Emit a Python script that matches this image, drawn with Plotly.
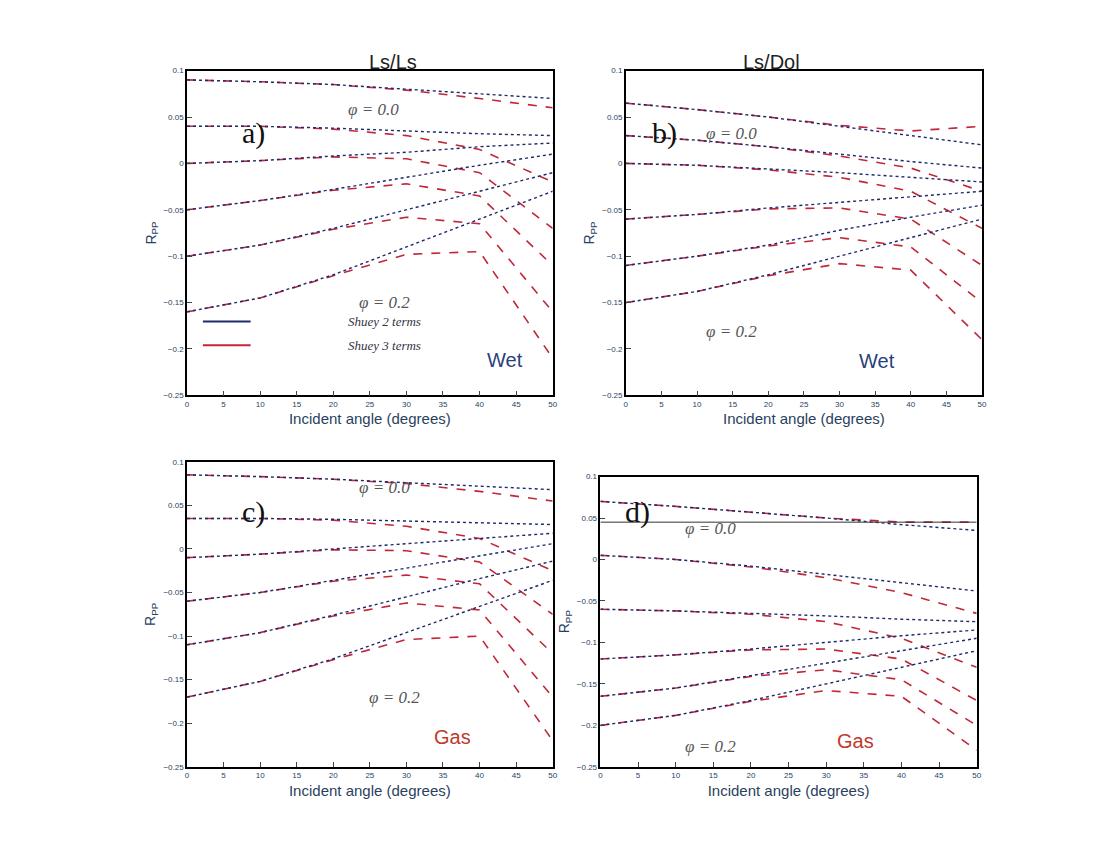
import plotly.graph_objects as go

angles = [0, 10, 20, 30, 40, 50]
phi_labels = ["0.00", "0.04", "0.08", "0.12", "0.16", "0.20"]

# Panel a: Ls/Ls wet
a_two = [
    [0.090, 0.088, 0.085, 0.080, 0.075, 0.070],
    [0.040, 0.040, 0.038, 0.035, 0.032, 0.030],
    [0.000, 0.003, 0.008, 0.012, 0.018, 0.022],
    [-0.050, -0.040, -0.028, -0.015, -0.002, 0.010],
    [-0.100, -0.088, -0.070, -0.050, -0.030, -0.010],
    [-0.160, -0.145, -0.120, -0.090, -0.060, -0.030],
]
a_three = [
    [0.090, 0.088, 0.085, 0.079, 0.070, 0.060],
    [0.040, 0.040, 0.037, 0.030, 0.015, -0.020],
    [0.000, 0.003, 0.007, 0.005, -0.010, -0.070],
    [-0.050, -0.040, -0.029, -0.022, -0.035, -0.110],
    [-0.100, -0.088, -0.071, -0.058, -0.065, -0.160],
    [-0.160, -0.145, -0.121, -0.098, -0.095, -0.210],
]
# Panel b: Ls/Dol wet
b_two = [
    [0.065, 0.058, 0.050, 0.040, 0.030, 0.020],
    [0.030, 0.025, 0.018, 0.010, 0.002, -0.005],
    [0.000, -0.002, -0.006, -0.010, -0.015, -0.020],
    [-0.060, -0.055, -0.048, -0.042, -0.036, -0.030],
    [-0.110, -0.100, -0.088, -0.072, -0.058, -0.045],
    [-0.150, -0.138, -0.120, -0.100, -0.080, -0.060],
]
b_three = [
    [0.065, 0.058, 0.050, 0.041, 0.035, 0.040],
    [0.030, 0.025, 0.018, 0.008, -0.005, -0.030],
    [0.000, -0.002, -0.007, -0.015, -0.030, -0.070],
    [-0.060, -0.055, -0.049, -0.048, -0.060, -0.110],
    [-0.110, -0.100, -0.089, -0.080, -0.090, -0.150],
    [-0.150, -0.138, -0.121, -0.108, -0.115, -0.190],
]
# Panel c: Ls/Ls gas
c_two = [
    [0.085, 0.083, 0.080, 0.076, 0.072, 0.068],
    [0.035, 0.035, 0.034, 0.032, 0.030, 0.028],
    [-0.010, -0.006, 0.000, 0.006, 0.012, 0.018],
    [-0.060, -0.050, -0.036, -0.022, -0.008, 0.006],
    [-0.110, -0.096, -0.076, -0.055, -0.034, -0.014],
    [-0.170, -0.152, -0.126, -0.096, -0.066, -0.036],
]
c_three = [
    [0.085, 0.083, 0.080, 0.075, 0.066, 0.055],
    [0.035, 0.035, 0.033, 0.026, 0.012, -0.025],
    [-0.010, -0.006, -0.001, -0.002, -0.015, -0.075],
    [-0.060, -0.050, -0.037, -0.030, -0.040, -0.120],
    [-0.110, -0.096, -0.077, -0.062, -0.070, -0.170],
    [-0.170, -0.152, -0.127, -0.104, -0.100, -0.220],
]
# Panel d: Ls/Dol gas
d_two = [
    [0.070, 0.064, 0.057, 0.050, 0.042, 0.035],
    [0.005, 0.000, -0.008, -0.018, -0.028, -0.038],
    [-0.060, -0.062, -0.065, -0.068, -0.072, -0.075],
    [-0.120, -0.115, -0.108, -0.100, -0.092, -0.085],
    [-0.165, -0.155, -0.140, -0.125, -0.110, -0.095],
    [-0.200, -0.188, -0.170, -0.150, -0.130, -0.110],
]
d_three = [
    [0.070, 0.064, 0.057, 0.050, 0.045, 0.045],
    [0.005, 0.000, -0.009, -0.022, -0.040, -0.065],
    [-0.060, -0.062, -0.066, -0.075, -0.095, -0.130],
    [-0.120, -0.115, -0.109, -0.108, -0.120, -0.170],
    [-0.165, -0.155, -0.141, -0.133, -0.145, -0.200],
    [-0.200, -0.188, -0.171, -0.158, -0.165, -0.230],
]

panels = [
    ("", a_two, a_three, [0.15, 0.495], [0.552, 0.948]),
    ("2", b_two, b_three, [0.564, 0.9], [0.552, 0.948]),
    ("3", c_two, c_three, [0.15, 0.495], [0.099, 0.471]),
    ("4", d_two, d_three, [0.54, 0.895], [0.099, 0.453]),
]

fig = go.Figure()
layout = {}
for suf, two, three, dx, dy in panels:
    for i in range(len(two)):
        fig.add_trace(go.Scatter(x=angles, y=three[i], mode="lines", xaxis="x" + suf, yaxis="y" + suf,
                                 line=dict(color="#c0283a", width=1.6, dash="dash"), showlegend=False))
        fig.add_trace(go.Scatter(x=angles, y=two[i], mode="lines", xaxis="x" + suf, yaxis="y" + suf,
                                 line=dict(color="#1f2a6b", width=1.4, dash="dot"), showlegend=False))
    layout["xaxis" + suf] = dict(domain=dx, anchor="y" + suf, range=[0, 50], showline=True, mirror=True,
                                 linecolor="black", linewidth=1.5, ticks="inside", showgrid=False,
                                 zeroline=False, tickfont=dict(size=8), dtick=5,
                                 title=dict(text="Incident angle (degrees)", font=dict(size=15), standoff=6))
    layout["yaxis" + suf] = dict(domain=dy, anchor="x" + suf, range=[-0.25, 0.1], showline=True, mirror=True,
                                 linecolor="black", linewidth=1.5, ticks="inside", showgrid=False,
                                 zeroline=False, tickfont=dict(size=8), dtick=0.05,
                                 title=dict(text="R<sub>PP</sub>", font=dict(size=14), standoff=4))
fig.update_layout(**layout)

ann = []
def t(x, y, text, size=16, color="#333", xr="paper", yr="paper", style="normal", family="Liberation Serif"):
    ann.append(dict(x=x, y=y, xref=xr, yref=yr, text=text, showarrow=False,
                    font=dict(size=size, color=color, family=family, style=style)))

t(0.32, 0.975, "Ls/Ls", 20, "#222", family="Liberation Sans")
t(0.73, 0.975, "Ls/Dol", 20, "#222", family="Liberation Sans")
for x, y, s in [(0.2, 0.895, "a)"), (0.6, 0.895, "b)"), (0.2, 0.41, "c)"), (0.575, 0.41, "d)")]:
    t(x, y, s, 30, "#111")
t(0.3, 0.915, "φ = 0.0", 17, "#555", style="italic")
t(0.31, 0.665, "φ = 0.2", 17, "#555", style="italic")
t(0.69, 0.885, "φ = 0.0", 17, "#555", style="italic")
t(0.69, 0.63, "φ = 0.2", 17, "#555", style="italic")
t(0.31, 0.44, "φ = 0.0", 17, "#555", style="italic")
t(0.32, 0.17, "φ = 0.2", 17, "#555", style="italic")
t(0.67, 0.39, "φ = 0.0", 17, "#555", style="italic")
t(0.67, 0.11, "φ = 0.2", 17, "#555", style="italic")
t(0.3, 0.642, "Shuey 2 terms", 13, "#334", style="italic")
t(0.3, 0.613, "Shuey 3 terms", 13, "#334", style="italic")
t(0.45, 0.595, "Wet", 20, "#2a3f7a", family="Liberation Sans")
t(0.82, 0.594, "Wet", 20, "#2a3f7a", family="Liberation Sans")
t(0.4, 0.12, "Gas", 20, "#c0392b", family="Liberation Sans")
t(0.8, 0.115, "Gas", 20, "#c0392b", family="Liberation Sans")
fig.update_layout(annotations=ann)
fig.add_shape(type="line", xref="paper", yref="paper", x0=0.165, x1=0.21, y0=0.642, y1=0.642,
              line=dict(color="#1f2a6b", width=2))
fig.add_shape(type="line", xref="paper", yref="paper", x0=0.165, x1=0.21, y0=0.613, y1=0.613,
              line=dict(color="#c0283a", width=2))
fig.add_shape(type="line", xref="x4", yref="y4", x0=0, x1=50, y0=0.045, y1=0.045,
              line=dict(color="#333", width=1))

fig.update_layout(width=1100, height=860, plot_bgcolor="white", paper_bgcolor="white",
                  margin=dict(l=20, r=20, t=20, b=20), font=dict(family="Liberation Sans"))
fig.write_html("out.html")
